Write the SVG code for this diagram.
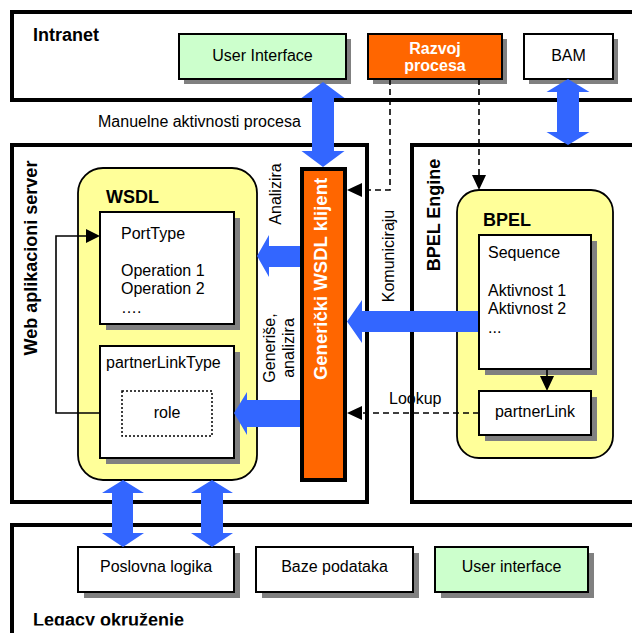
<svg xmlns="http://www.w3.org/2000/svg" width="632" height="633" viewBox="0 0 632 633">
<style>
text{font-family:"Liberation Sans",Arial,sans-serif;font-size:16px;fill:#000}
.b{font-weight:bold}
.t18{font-size:18px;font-weight:bold}
.mid{text-anchor:middle}
.cont{fill:#fff;stroke:#000;stroke-width:4}
.box{stroke:#000;stroke-width:2}
.sh{fill:#808080}
.yel{fill:#ffff99;stroke:#000;stroke-width:1.8}
.blue{fill:#3366ff}
.dash{fill:none;stroke:#000;stroke-width:1.6;stroke-dasharray:6 4}
.thin{fill:none;stroke:#000;stroke-width:1.6}
.wt{fill:#fff}
</style>
<defs>
<clipPath id="legclip"><rect x="0" y="0" width="632" height="625.5"/></clipPath>
</defs>
<rect width="632" height="633" fill="#fff"/>

<g id="intranet">
<rect class="cont" x="12" y="12" width="640" height="88"/>
<text class="t18" x="33" y="41">Intranet</text>
</g>
<g id="web-server">
<rect class="cont" x="12" y="145" width="355" height="357"/>
<text class="t18 mid" transform="translate(37,258) rotate(-90)">Web aplikacioni server</text>
</g>
<g id="bpel-engine">
<rect class="cont" x="412" y="145" width="240" height="357"/>
<text class="t18 mid" transform="translate(440,215) rotate(-90)">BPEL Engine</text>
</g>
<g id="legacy">
<rect class="cont" x="12" y="525" width="640" height="140"/>
<text class="t18" x="33" y="626" clip-path="url(#legclip)">Legacy okruženje</text>
</g>

<g id="user-interface">
<rect class="sh" x="184" y="39" width="167" height="45"/>
<rect class="box" fill="#ccffcc" x="179" y="34" width="167" height="45"/>
<text class="mid" x="262.5" y="61">User Interface</text>
</g>
<g id="razvoj-procesa">
<rect class="sh" x="373" y="39" width="134" height="45"/>
<rect class="box" fill="#ff6600" x="368" y="34" width="134" height="45"/>
<text class="b mid wt" x="435" y="54">Razvoj</text>
<text class="b mid wt" x="435" y="71">procesa</text>
</g>
<g id="bam">
<rect class="sh" x="529" y="39" width="89" height="45"/>
<rect class="box" fill="#fff" x="524" y="34" width="89" height="45"/>
<text class="mid" x="568.5" y="61">BAM</text>
</g>

<g id="wsdl">
<rect class="yel" x="78" y="168" width="179" height="312" rx="25"/>
<text class="t18" x="106" y="203">WSDL</text>
</g>
<g id="porttype">
<rect class="sh" x="106" y="218" width="134" height="112"/>
<rect class="box" fill="#fff" x="100" y="212" width="134" height="112"/>
<text x="121" y="238.5">PortType</text>
<text x="121" y="275.5">Operation 1</text>
<text x="121" y="294">Operation 2</text>
<text x="121" y="312.5">….</text>
</g>
<g id="partnerlinktype">
<rect class="sh" x="106" y="352" width="134" height="112"/>
<rect class="box" fill="#fff" x="100" y="346" width="134" height="112"/>
<text x="106" y="367.5">partnerLinkType</text>
</g>
<g id="role">
<rect fill="none" stroke="#000" stroke-width="1.5" stroke-dasharray="2 2" x="122" y="391" width="90" height="45"/>
<text class="mid" x="167" y="417.5">role</text>
</g>

<g id="genericki-wsdl-klijent">
<rect x="302" y="169" width="43" height="311" fill="#ff6600" stroke="#000" stroke-width="4"/>
<text class="b mid wt" style="font-size:18.5px" transform="translate(327,279) rotate(-90)">Generički WSDL klijent</text>
</g>

<g id="bpel">
<rect class="yel" x="457" y="190" width="156" height="268" rx="22"/>
<text class="t18" x="483" y="225.5">BPEL</text>
</g>
<g id="sequence">
<rect class="sh" x="485" y="241" width="112" height="134"/>
<rect class="box" fill="#fff" x="479" y="235" width="112" height="134"/>
<text x="488" y="258">Sequence</text>
<text x="488" y="295.5">Aktivnost 1</text>
<text x="488" y="314">Aktivnost 2</text>
<text x="488" y="332.5">...</text>
</g>
<g id="partnerlink">
<rect class="sh" x="485" y="397" width="112" height="44"/>
<rect class="box" fill="#fff" x="479" y="391" width="112" height="44"/>
<text class="mid" x="535" y="416.5">partnerLink</text>
</g>

<g id="poslovna-logika">
<rect class="sh" x="84" y="553" width="156" height="45"/>
<rect class="box" fill="#fff" x="78" y="547" width="156" height="45"/>
<text class="mid" x="156" y="572">Poslovna logika</text>
</g>
<g id="baze-podataka">
<rect class="sh" x="262" y="553" width="157" height="45"/>
<rect class="box" fill="#fff" x="256" y="547" width="157" height="45"/>
<text class="mid" x="334.5" y="572">Baze podataka</text>
</g>
<g id="user-interface-legacy">
<rect class="sh" x="441" y="553" width="153" height="45"/>
<rect class="box" fill="#ccffcc" x="435" y="547" width="153" height="45"/>
<text class="mid" x="511.5" y="572">User interface</text>
</g>

<g id="connectors">
<!-- blue double arrows -->
<polygon class="blue" points="323,82 344.5,98 334,98 334,151 344.5,151 323,167 301.5,151 312,151 312,98 301.5,98"/>
<polygon class="blue" points="568,79 589.5,92 579,92 579,132 589.5,132 568,145 546.5,132 557,132 557,92 546.5,92"/>
<polygon class="blue" points="123,480 144,493 133,493 133,533 144,533 123,547 102,533 112,533 112,493 102,493"/>
<polygon class="blue" points="212,480 233,493 223,493 223,533 233,533 212,547 191,533 201,533 201,493 191,493"/>
<!-- blue single arrows -->
<polygon class="blue" points="257,256 269,235 269,246 300,246 300,267 269,267 269,277"/>
<polygon class="blue" points="234,413 247,392 247,400 300,400 300,427 247,427 247,435"/>
<polygon class="blue" points="347,321.5 362,300 362,311 478,311 478,332 362,332 362,343"/>
<!-- dashed arrows -->
<path class="dash" d="M390,79 V190 H362"/>
<polygon points="347,190 362,183 362,197"/>
<path class="dash" d="M479,79 V176"/>
<polygon points="479,190 472,175 486,175"/>
<path class="dash" d="M479,413 H362"/>
<polygon points="347,413 362,406 362,420"/>
<text x="389" y="404">Lookup</text>
<!-- loop arrow -->
<path class="thin" d="M100,413 H56 V236 H87"/>
<polygon points="100,236 86,229 86,243"/>
<!-- sequence to partnerLink -->
<path class="thin" d="M547,369 V377"/>
<polygon points="547,391 540,376 554,376"/>
<!-- labels -->
<text x="98" y="127">Manuelne aktivnosti procesa</text>
<text class="mid" transform="translate(281,194) rotate(-90)">Analizira</text>
<text class="mid" transform="translate(393.5,256) rotate(-90)">Komuniciraju</text>
<text class="mid" transform="translate(274.5,348) rotate(-90)">Generiše,</text>
<text class="mid" transform="translate(293.5,348) rotate(-90)">analizira</text>
</g>
</svg>
